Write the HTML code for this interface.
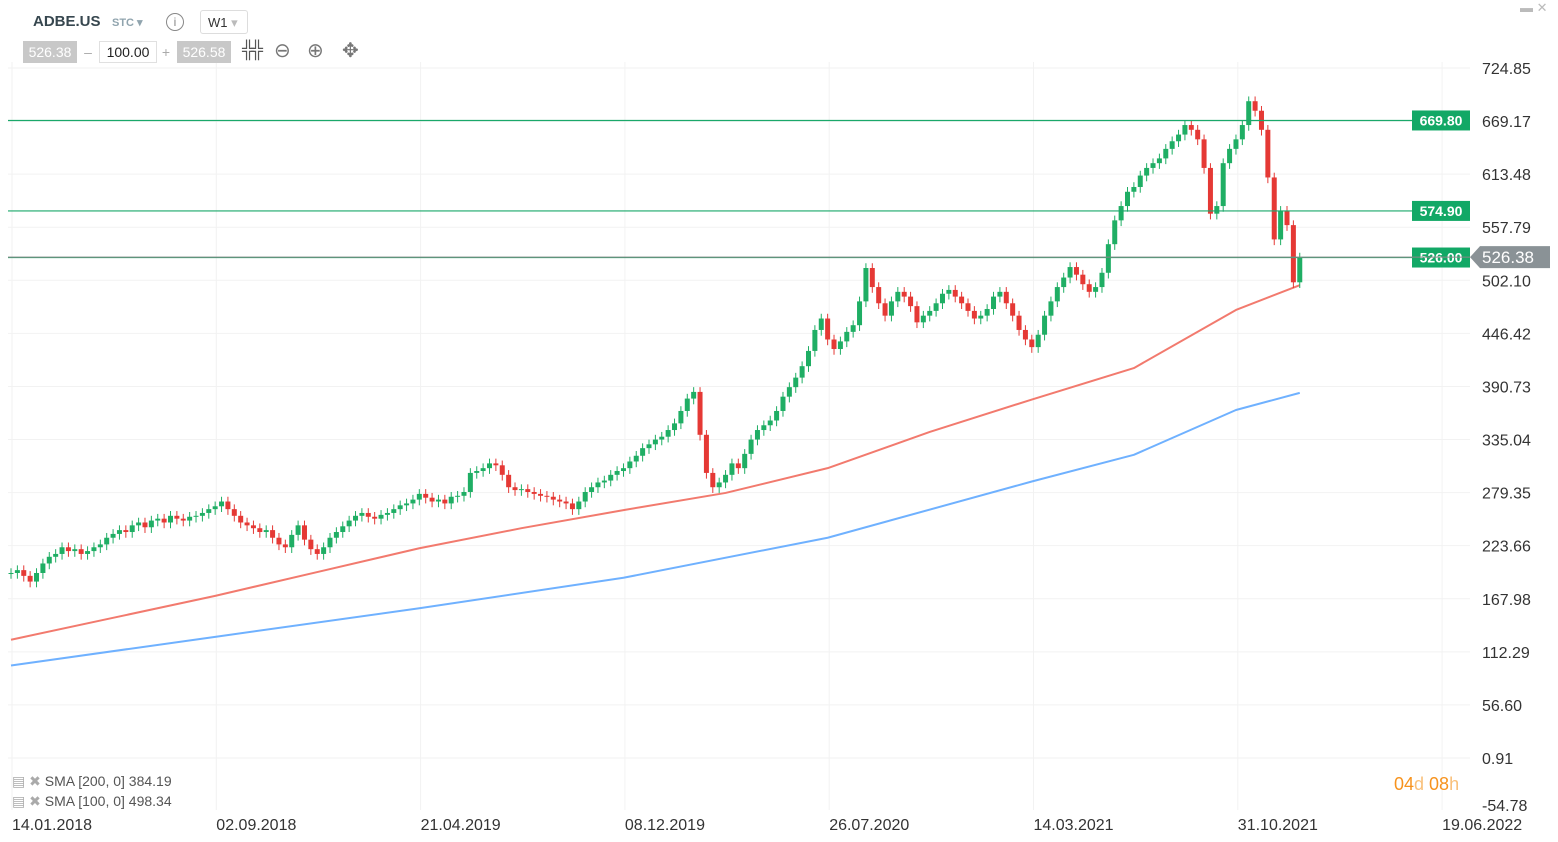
<!DOCTYPE html>
<html><head><meta charset="utf-8"><style>
body{margin:0;background:#fff;font-family:"Liberation Sans",sans-serif;}
#wrap{position:relative;width:1558px;height:842px;overflow:hidden;}
svg{position:absolute;left:0;top:0;}
.tb{position:absolute;font-size:14px;}
</style></head><body>
<div id="wrap">
<svg id="chart" width="1558" height="842"></svg>
<div class="tb" style="left:33px;top:13px;font-weight:bold;font-size:15px;color:#37474f">ADBE.US</div>
<div class="tb" style="left:112px;top:16px;font-size:11px;font-weight:bold;color:#90a4ae">STC ▾</div>
<div class="tb" style="left:166px;top:13px;width:16px;height:16px;border:1.5px solid #888;border-radius:50%;font-size:12px;text-align:center;line-height:16px;color:#888">i</div>
<div class="tb" style="left:200px;top:10px;width:48px;height:24px;border:1px solid #ddd;border-radius:3px;font-size:13px;line-height:24px;padding-left:7px;box-sizing:border-box;color:#333">W1 <span style="color:#bbb">▾</span></div>
<div class="tb" style="left:23px;top:41px;width:54px;height:22px;background:#c8c8c8;color:#fff;line-height:22px;text-align:center">526.38</div>
<div class="tb" style="left:78px;top:41px;width:20px;height:22px;color:#aaa;line-height:22px;text-align:center">–</div>
<div class="tb" style="left:99px;top:41px;width:56px;height:20px;border:1px solid #e0e0e0;color:#222;line-height:20px;text-align:center">100.00</div>
<div class="tb" style="left:156px;top:41px;width:20px;height:22px;color:#aaa;line-height:22px;text-align:center">+</div>
<div class="tb" style="left:177px;top:41px;width:54px;height:22px;background:#c8c8c8;color:#fff;line-height:22px;text-align:center">526.58</div>
<div class="tb" style="left:242px;top:40px;font-size:17px;color:#555;font-weight:bold;letter-spacing:-3px">╬╬</div>
<div class="tb" style="left:274px;top:38px;font-size:20px;color:#777">⊖</div>
<div class="tb" style="left:307px;top:38px;font-size:20px;color:#777">⊕</div>
<div class="tb" style="left:342px;top:38px;font-size:20px;color:#777">✥</div>
<div class="tb" style="left:12px;top:773px;font-size:14px;color:#555"><span style="color:#aaa">▤ ✖</span> SMA [200, 0] 384.19</div>
<div class="tb" style="left:12px;top:793px;font-size:14px;color:#555"><span style="color:#aaa">▤ ✖</span> SMA [100, 0] 498.34</div>
<div class="tb" style="left:1394px;top:774px;font-size:18px;color:#f7931e">04<span style="color:#f9c07a">d</span> 08<span style="color:#f9c07a">h</span></div>
<div class="tb" style="left:1520px;top:0px;font-size:13px;color:#bbb">▬ ✕</div>
</div>
<script>
const closes=[195,198,192,186,195,205,212,215,222,218,220,215,218,222,
225,232,236,240,238,245,248,243,250,252,248,255,252,250,254,255,
258,262,265,270,262,255,248,245,242,238,240,232,225,222,235,245,
230,220,215,222,232,238,244,250,255,258,254,252,256,258,262,266,
268,272,278,274,270,272,268,275,276,280,300,302,305,310,308,298,
285,282,283,280,278,276,275,272,270,268,262,270,280,285,290,
292,298,302,305,312,318,326,330,335,338,345,352,365,378,385,340,
300,285,290,298,310,305,320,335,345,350,355,365,380,390,400,
412,428,450,462,440,430,438,448,455,480,515,495,478,465,480,490,
485,475,458,465,470,478,488,492,485,478,470,462,465,472,485,490,
478,465,450,440,432,445,465,480,495,505,516,508,498,490,495,
510,540,565,580,595,600,612,620,625,630,640,648,655,665,660,650,
620,572,580,625,640,650,665,690,680,660,610,545,575,560,500,526];
const sma100Weeks=[0,16,32,48,64,80,96,112,128,144,160,176,192,202];
const sma100=[125,148,171,196,221,242,261,279,305,343,377,410,471,497];
const sma200Weeks=[0,32,64,96,128,160,176,192,202];
const sma200=[98,128,158,190,232,291,319,366,384];
const yTicks=["724.85","669.17","613.48","557.79","502.10","446.42","390.73","335.04","279.35","223.66","167.98","112.29","56.60","0.91"];
const bottomTick="-54.78";
const xLabels=["14.01.2018","02.09.2018","21.04.2019","08.12.2019","26.07.2020","14.03.2021","31.10.2021","19.06.2022"];
const levels=[669.80,574.90,526.00];
const lastPrice=526.38;

const svg=document.getElementById('chart');
const NS='http://www.w3.org/2000/svg';
const y=v=>68+(724.85-v)*0.9531;
const x=i=>11+i*6.38;
function mk(t,a){const e=document.createElementNS(NS,t);for(const k in a)e.setAttribute(k,a[k]);svg.appendChild(e);return e;}
yTicks.forEach(t=>{const yy=y(+t);
 const g=mk('line',{x1:8,x2:1470,y1:yy,y2:yy,stroke:'#f2f2f2'});
 
 
 const tx=mk('text',{x:1482,y:yy+6,'font-size':16,fill:'#333'});tx.textContent=t;
 
 });
const bt=mk('text',{x:1482,y:811,'font-size':16,fill:'#333'});bt.textContent=bottomTick;


xLabels.forEach((t,k)=>{const xx=12+k*204.3;
 const g=mk('line',{x1:xx,x2:xx,y1:62,y2:810,stroke:'#f2f2f2'});
 
 
 const tx=mk('text',{x:xx,y:830,'font-size':16,fill:'#333'});tx.textContent=t;
 
 });
function line(weeks,arr,col,name){const pts=arr.map((v,k)=>x(weeks[k])+','+y(v)).join(' ');
 const p=mk('polyline',{points:pts,fill:'none',stroke:col,'stroke-width':2,'stroke-linejoin':'round'});
 
 }
line(sma200Weeks,sma200,'#6fb1ff','sma-200-line');line(sma100Weeks,sma100,'#f27a6e','sma-100-line');
closes.forEach((c,i)=>{const o=i?closes[i-1]:c;const up=c>=o;const col=up?'#1fae64':'#e53935';
 const hi=Math.max(o,c)+5,lo=Math.min(o,c)-6;const xx=x(i);
 const w=mk('line',{x1:xx,x2:xx,y1:y(hi),y2:y(lo),stroke:col,'stroke-width':1});
 
 
 const r=mk('rect',{x:xx-2.5,width:5,y:y(Math.max(o,c)),height:Math.max(1,Math.abs(y(o)-y(c))),fill:col});
 
 });
levels.forEach(v=>{const yy=y(v);
 const l=mk('line',{x1:8,x2:1470,y1:yy,y2:yy,stroke:'#1aa86a','stroke-width':1.2});
 
 
 const r=mk('rect',{x:1412,y:yy-10,width:58,height:20,fill:'#12a866'});
 
 
 const t=mk('text',{x:1441,y:yy+5,'font-size':14,fill:'#fff','text-anchor':'middle','font-weight':'bold'});t.textContent=v.toFixed(2);
 
 });
const py=y(lastPrice);
const pl=mk('line',{x1:8,x2:1470,y1:py,y2:py,stroke:'#888','stroke-width':1});


const pb=mk('polygon',{points:`1470,${py} 1480,${py-11} 1550,${py-11} 1550,${py+11} 1480,${py+11}`,fill:'#8a9296'});


const pt=mk('text',{x:1482,y:py+6,'font-size':17,fill:'#fff'});pt.textContent=lastPrice.toFixed(2);


</script>
</body></html>
